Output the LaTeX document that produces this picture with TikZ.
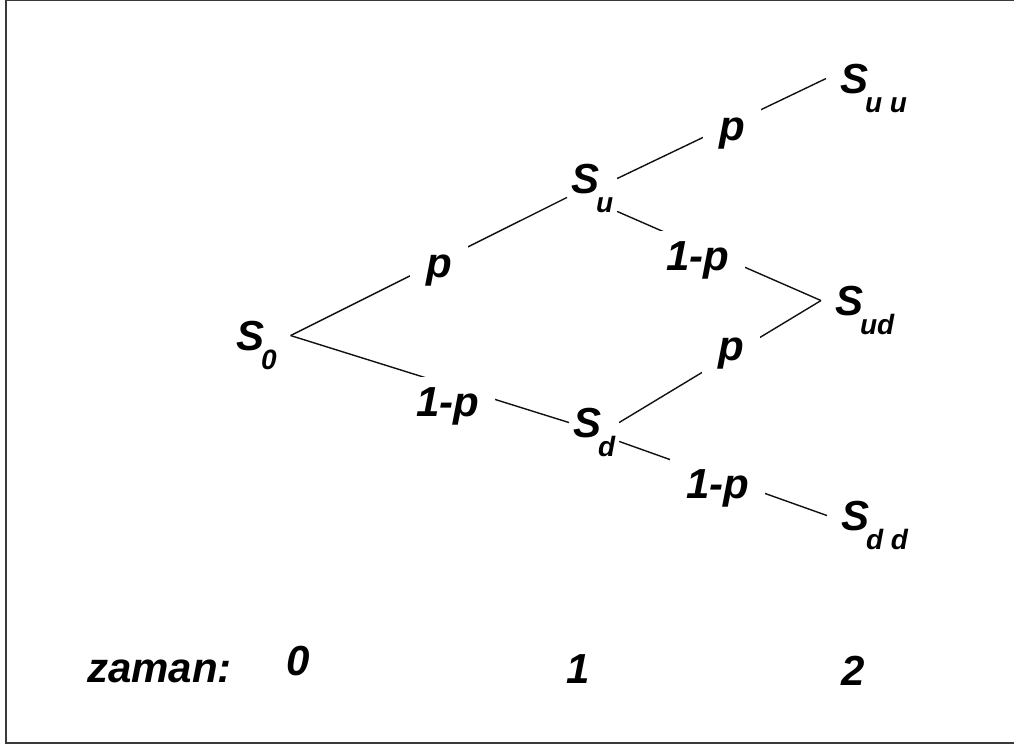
\documentclass[tikz,border=0pt]{standalone}
\usepackage{fontspec}
\setmainfont{Liberation Sans}
\usepackage{tikz}
\definecolor{cFrame}{HTML}{3A3A3A}
\definecolor{cLine}{HTML}{111111}
\newcommand{\Sidx}[1]{S\kern-1.5pt\smash{\raisebox{-9.5pt}{\fontsize{14}{14}\selectfont #1}}}
\tikzset{
  state/.style={inner sep=0pt, outer sep=2pt, anchor=text,
                font=\fontsize{21}{25}\selectfont\bfseries\itshape},
  root/.style={state, outer sep=7pt},
  leaf/.style={state, outer sep=7pt},
  prob/.style={fill=white, inner xsep=8pt, inner ysep=5pt, anchor=text,
               font=\fontsize{21}{25}\selectfont\bfseries\itshape},
  tick/.style={inner sep=0pt, anchor=text,
               font=\fontsize{21}{25}\selectfont\bfseries\itshape},
  edge/.style={line width=0.7pt, draw=cLine},
  frame/.style={draw=cFrame, line width=1.3pt},
}

\begin{document}
\begin{tikzpicture}[x=0.5pt, y=-0.5pt]
  \useasboundingbox (0,0) rectangle (1014,746);
  \draw[frame] (6,0) rectangle (1030,743);

  \node[root] (s0)  at (236,350) {\Sidx{0}};
  \node[state] (su) at (571,193) {\Sidx{u}};
  \node[state] (sd) at (573,437) {\Sidx{d}};
  \node[leaf] (suu) at (840,93)  {\Sidx{u u}};
  \node[leaf] (sud) at (835,315) {\Sidx{ud}};
  \node[leaf] (sdd) at (841,530) {\Sidx{d d}};

  \draw[edge] (s0.east) -- (su.south west);
  \draw[edge] (s0.east) -- (sd.west);
  \draw[edge] (su.east) -- (suu.west);
  \draw[edge] ([yshift=-7pt]su.south east) -- (sud.west);
  \draw[edge] (sd.east) -- (sud.west);
  \draw[edge] (sd.south east) -- (sdd.west);

  \node[prob] (pu)   at (426,277) {p};
  \node[prob] (pd)   at (416,416) {1-p};
  \node[prob] (puu)  at (719,140) {p};
  \node[prob] (pud)  at (666,270) {1-p};
  \node[prob] (pdu)  at (718,360) {p};
  \node[prob] (pdd)  at (686,498) {1-p};

  \node[tick] (zaman) at (87,682)  {zaman:};
  \node[tick] (t0)    at (286,675) {0};
  \node[tick] (t1)    at (566,683) {1};
  \node[tick] (t2)    at (841,685) {2};
\end{tikzpicture}
\end{document}
